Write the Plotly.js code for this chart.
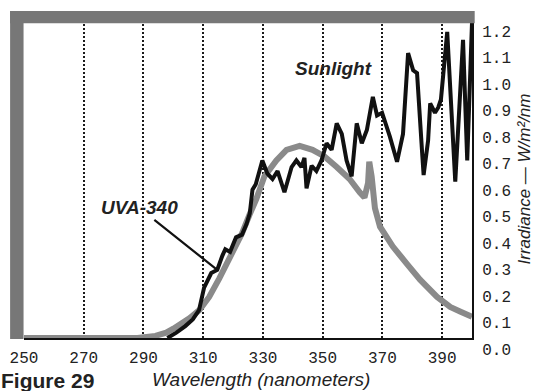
<!DOCTYPE html>
<html>
<head>
<meta charset="utf-8">
<script src="https://cdn.plot.ly/plotly-3.0.1.min.js"></script>
<style>html,body{margin:0;padding:0;background:#fff;}#chart{width:545px;height:391px;}</style>
</head>
<body>
<div id="chart"></div>
<script>
// Wavelength ticks (nm)
const xTicks = [250, 270, 290, 310, 330, 350, 370, 390];
const xTickText = ["250", "270", "290", "310", "330", "350", "370", "390"];
// Irradiance ticks (W/m2/nm)
const yTicks = [0, 0.1, 0.2, 0.3, 0.4, 0.5, 0.6, 0.7, 0.8, 0.9, 1.0, 1.1, 1.2];
const yTickText = ["0.0", "0.1", "0.2", "0.3", "0.4", "0.5", "0.6", "0.7", "0.8", "0.9", "1.0", "1.1", "1.2"];

// UVA-340 lamp spectrum
const uvaWavelength = [250, 260, 270, 280, 288, 294, 297.6, 300, 302.9, 305.5, 308.7, 312, 315.4, 318.7, 323, 325.5, 327.8, 330.5, 334.5, 337.9, 342.3, 346.6, 350.6, 354.7, 359, 362.4, 364, 365.2, 365.6, 366.4, 367.5, 369.2, 373.5, 378.2, 382.6, 388.3, 392.7, 396, 400];
const uvaIrradiance = [0, 0, 0, 0, 0, 0.008, 0.02, 0.035, 0.055, 0.075, 0.105, 0.155, 0.225, 0.3, 0.395, 0.465, 0.525, 0.61, 0.67, 0.71, 0.725, 0.71, 0.685, 0.645, 0.6, 0.55, 0.53, 0.585, 0.665, 0.61, 0.49, 0.42, 0.345, 0.28, 0.22, 0.155, 0.117, 0.1, 0.08];

// Sunlight spectrum
const sunWavelength = [298, 301, 304, 306.5, 308.6, 310.3, 312.7, 314.7, 316.4, 317.4, 319, 321, 323, 324.5, 325.6, 326.5, 327.6, 329.8, 331.5, 333.2, 334.9, 337.2, 339.6, 341.2, 342.9, 343.9, 344.6, 346.3, 347.9, 349.6, 351.3, 353, 354.7, 356.4, 358, 359.7, 361.4, 363.1, 364.8, 366.8, 368.2, 369.9, 372.5, 374.9, 376.9, 378.6, 380.3, 381.6, 383.3, 383.8, 385.3, 386, 387.6, 388.7, 389.6, 391.7, 394.4, 397, 398.4, 400];
const sunIrradiance = [0, 0.02, 0.045, 0.07, 0.105, 0.19, 0.245, 0.257, 0.31, 0.335, 0.325, 0.38, 0.39, 0.43, 0.47, 0.56, 0.58, 0.67, 0.62, 0.6, 0.63, 0.55, 0.645, 0.67, 0.645, 0.68, 0.565, 0.65, 0.63, 0.67, 0.735, 0.71, 0.81, 0.77, 0.67, 0.61, 0.81, 0.735, 0.785, 0.91, 0.84, 0.85, 0.76, 0.665, 0.77, 1.075, 1.01, 1.0, 0.7, 0.615, 0.745, 0.885, 0.85, 0.87, 0.9, 1.155, 0.59, 1.125, 0.67, 1.19];

const traces = [
  {x: uvaWavelength, y: uvaIrradiance, type: "scatter", mode: "lines", name: "UVA-340",
   line: {color: "#8a8a8a", width: 6}, cliponaxis: false, hoverinfo: "skip"},
  {x: sunWavelength, y: sunIrradiance, type: "scatter", mode: "lines", name: "Sunlight",
   line: {color: "#111111", width: 4}, cliponaxis: false, hoverinfo: "skip"}
];

const layout = {
  width: 545, height: 391,
  margin: {l: 24, r: 73, t: 20, b: 53, pad: 0},
  paper_bgcolor: "#ffffff", plot_bgcolor: "#ffffff",
  showlegend: false,
  xaxis: {
    range: [250, 400], tickvals: xTicks, ticktext: xTickText,
    showgrid: true, gridcolor: "#1a1a1a", gridwidth: 2, griddash: "2px,2px",
    zeroline: false, showline: true, linecolor: "#111", linewidth: 2,
    ticks: "", ticklabelstandoff: 4, layer: "below traces",
    tickfont: {family: "Liberation Mono, DejaVu Sans Mono, monospace", size: 16, color: "#222"}
  },
  yaxis: {
    range: [0, 1.2], side: "right", tickvals: yTicks, ticktext: yTickText,
    showgrid: false, zeroline: false, showline: true, linecolor: "#111", linewidth: 2,
    ticks: "", ticklabelshift: 11, ticklabelstandoff: 5, layer: "below traces",
    tickfont: {family: "Liberation Mono, DejaVu Sans Mono, monospace", size: 16, color: "#222"},
    title: {text: "Irradiance — W/m²/nm", standoff: 8,
            font: {family: "Liberation Sans, Arial, sans-serif", size: 17, style: "italic", color: "#222"}}
  },
  shapes: [
    {type: "rect", xref: "paper", yref: "paper", x0: -0.031, x1: -0.001, y0: -0.003, y1: 1.028,
     fillcolor: "#777", line: {width: 0}},
    {type: "rect", xref: "paper", yref: "paper", x0: -0.031, x1: 1.006, y0: 0.99, y1: 1.028,
     fillcolor: "#777", line: {width: 0}}
  ],
  annotations: [
    {text: "Wavelength (nanometers)", xref: "paper", yref: "paper", x: 0.529, y: -0.132,
     showarrow: false, xanchor: "center", yanchor: "middle",
     font: {family: "Liberation Sans, Arial, sans-serif", size: 19, style: "italic", color: "#222"}},
    {text: "Figure 29", xref: "paper", yref: "paper", x: -0.056, y: -0.135,
     showarrow: false, xanchor: "left", yanchor: "middle",
     font: {family: "Liberation Sans, Arial, sans-serif", size: 21, weight: "bold", color: "#222"}},
    {text: "Sunlight", xref: "paper", yref: "paper", x: 0.69, y: 0.849,
     showarrow: false, xanchor: "center", yanchor: "middle",
     font: {family: "Liberation Sans, Arial, sans-serif", size: 19, weight: "bold", style: "italic", color: "#222"}},
    {text: "UVA-340", xref: "x", yref: "y", x: 314.7, y: 0.257, ax: -78, ay: -62,
     showarrow: true, arrowhead: 0, arrowwidth: 2.2, arrowcolor: "#111", standoff: 0,
     font: {family: "Liberation Sans, Arial, sans-serif", size: 19, weight: "bold", style: "italic", color: "#222"}}
  ]
};

Plotly.newPlot("chart", traces, layout, {staticPlot: true, displayModeBar: false});
</script>
</body>
</html>
